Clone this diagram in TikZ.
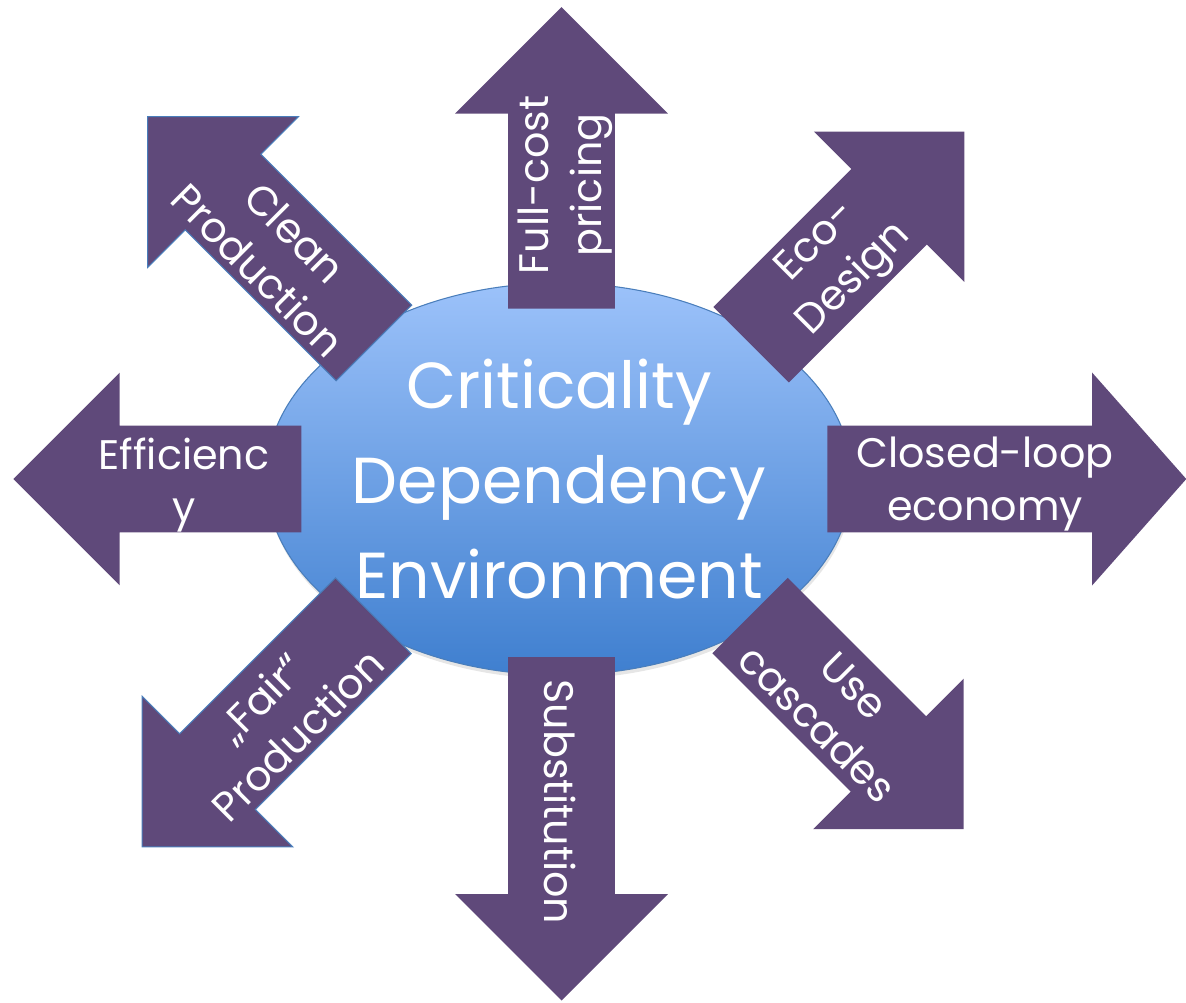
\documentclass[tikz,border=0pt]{standalone}
\usepackage{fontspec}
\setmainfont{Poppins}
\usetikzlibrary{shapes.arrows,shapes.geometric,shadows}

\definecolor{arrowpurple}{HTML}{5F497A}
\definecolor{ringblue}{HTML}{4A7EBB}
\definecolor{coretop}{HTML}{9CC2FA}
\definecolor{corebottom}{HTML}{3F7FCF}

\tikzstyle{bigarrow}=[single arrow,fill=arrowpurple,anchor=tail,inner xsep=0pt,inner ysep=1.06cm,minimum width=4.24cm,single arrow head extend=1.06cm,single arrow tip angle=90]
\tikzstyle{edged}=[draw=ringblue,line width=0.6pt]
\tikzstyle{arrowlabel}=[text=white,align=center,font=\fontsize{23.5}{30}\selectfont]
\tikzstyle{core}=[ellipse,draw=ringblue,line width=0.6pt,top color=coretop,bottom color=corebottom,minimum width=11.72cm,minimum height=7.84cm,inner sep=0pt,text=white,align=center,font=\fontsize{37}{54}\selectfont,drop shadow={opacity=0.2,shadow xshift=0.2mm,shadow yshift=-0.8mm}]

\begin{document}
\begin{tikzpicture}[x=0.02cm,y=-0.02cm]
\useasboundingbox (0,0) rectangle (1186,1002);

\node[core] (C) at (559,479) {Criticality\\Dependency\\Environment};

% eight ways out
\node[bigarrow,rotate=90,minimum height=6.03cm] (N) at (561.5,309) {};
\node[bigarrow,rotate=-90,minimum height=6.87cm] (S) at (561.5,656.7) {};
\node[bigarrow,rotate=180,minimum height=5.76cm] (W) at (301.6,479) {};
\node[bigarrow,rotate=0,minimum height=7.18cm,single arrow tip angle=97] (E) at (827,479) {};
\node[bigarrow,rotate=45,minimum height=6.03cm] (NE) at (750.9,344.9) {};
\node[bigarrow,edged,rotate=135,minimum height=6.40cm] (NW) at (374.3,343.3) {};
\node[bigarrow,rotate=-45,minimum height=6.04cm] (SE) at (749.8,615.3) {};
\node[bigarrow,edged,rotate=-135,minimum height=6.54cm] (SW) at (373.7,615.4) {};

\node[arrowlabel,rotate=90] (Nl) at (565.5,185) {Full-cost\\pricing};
\node[arrowlabel,rotate=-90] (Sl) at (560.5,802) {Substitution};
\node[arrowlabel] (Wl) at (184,485) {Efficienc\\y};
\node[arrowlabel] (El) at (985,484) {Closed-loop\\economy};
\node[arrowlabel,rotate=45] (NEl) at (836.5,261.5) {Eco-\\Design};
\node[arrowlabel,rotate=-45] (NWl) at (276.5,251.5) {Clean\\Production};
\node[arrowlabel,rotate=-45] (SEl) at (835.7,705) {Use\\cascades};
\node[arrowlabel,rotate=45] (SWl) at (278.8,716.2) {„Fair“\\Production};

\end{tikzpicture}
\end{document}
